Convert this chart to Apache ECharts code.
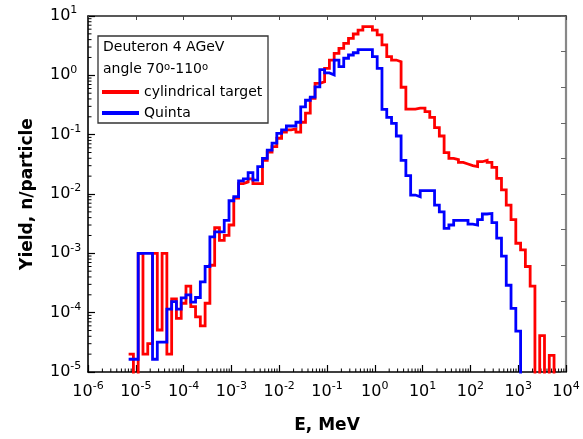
<!DOCTYPE html>
<html>
<head>
<meta charset="utf-8">
<script src="https://cdn.jsdelivr.net/npm/echarts@6/dist/echarts.min.js"></script>
<style>html,body{margin:0;padding:0;background:#fff}#c{width:583px;height:439px}</style>
</head>
<body>
<div id="c"></div>
<script>
// Bin centres, log10(E / MeV); bins are 0.1 decade wide
const binCenterLog10E = [
 -5.1,-5.0,-4.9,-4.8,-4.7,-4.6,-4.5,-4.4,-4.3,-4.2,-4.1,
 -4.0,-3.9,-3.8,-3.7,-3.6,-3.5,-3.4,-3.3,-3.2,-3.1,
 -3.0,-2.9,-2.8,-2.7,-2.6,-2.5,-2.4,-2.3,-2.2,-2.1,
 -2.0,-1.9,-1.8,-1.7,-1.6,-1.5,-1.4,-1.3,-1.2,-1.1,
 -1.0,-0.9,-0.8,-0.7,-0.6,-0.5,-0.4,-0.3,-0.2,-0.1,
 0.0,0.1,0.2,0.3,0.4,0.5,0.6,0.7,0.8,0.9,
 1.0,1.1,1.2,1.3,1.4,1.5,1.6,1.7,1.8,1.9,
 2.0,2.1,2.2,2.3,2.4,2.5,2.6,2.7,2.8,2.9,
 3.0,3.1,3.2,3.3,3.4,3.5,3.6,3.7
];
const binHalfWidthLog = 0.05;

// Yield, n/particle - cylindrical target (red)
const cylindricalTarget = [
 2.0e-5,0,1e-3,2.0e-5,3.0e-5,1e-3,5.1e-5,1e-3,2.0e-5,1.7e-4,8.0e-5,
 1.44e-4,2.8e-4,1.26e-4,8.5e-5,6.0e-5,1.44e-4,6.3e-4,2.7e-3,1.65e-3,2.0e-3,
 3.0e-3,8.5e-3,1.5e-2,1.6e-2,1.8e-2,1.5e-2,1.5e-2,3.7e-2,5.1e-2,6.3e-2,
 8.7e-2,0.11,0.12,0.125,0.11,0.162,0.23,0.41,0.73,0.78,
 1.31,1.81,2.35,2.85,3.46,4.2,4.97,5.8,6.6,6.6,
 5.8,4.8,3.25,2.06,1.81,1.7,0.63,0.27,0.27,0.28,
 0.28,0.245,0.196,0.131,0.095,0.05,0.04,0.038,0.034,0.032,
 0.03,0.029,0.035,0.037,0.034,0.028,0.0184,0.0117,0.0065,0.0037,
 0.00148,0.00114,6e-4,2.8e-4,0,4.1e-5,0,1.9e-5
];

// Yield, n/particle - Quinta (blue)
const quinta = [
 1.64e-5,1.64e-5,1e-3,1e-3,1e-3,1.64e-5,3.2e-5,3.2e-5,1.15e-4,1.53e-4,1.15e-4,
 1.78e-4,2.0e-4,1.5e-4,1.8e-4,3.3e-4,6e-4,1.9e-3,2.3e-3,2.3e-3,3.6e-3,
 7.7e-3,9e-3,1.66e-2,1.8e-2,2.3e-2,1.72e-2,2.9e-2,4e-2,5.5e-2,7.2e-2,
 0.105,0.12,0.14,0.14,0.162,0.295,0.38,0.43,0.64,1.25,
 1.1,1.02,1.81,1.4,1.94,2.2,2.4,2.72,2.72,2.72,
 2.06,1.31,0.267,0.196,0.155,0.095,0.037,0.0204,0.0096,0.009,
 0.0114,0.0114,0.0114,0.0065,0.005,0.00264,0.003,0.0036,0.0036,0.0036,
 0.0031,0.003,0.0037,0.0046,0.0047,0.0033,0.0018,9e-4,2.9e-4,1.18e-4,
 4.9e-5,0,0,0,0,0,0,0
];

const seriesNames = ['cylindrical target', 'Quinta'];
const titleLines = ['Deuteron 4 AGeV', 'angle 70{s|o}-110{s|o}'];
const xDecades = [-6,-5,-4,-3,-2,-1,0,1,2,3,4];
const yDecades = [-5,-4,-3,-2,-1,0,1];
const minorMultipliers = [2,3,4,5,6,7,8,9];

const X_MIN = 1e-6, X_MAX = 1e4, Y_MIN = 1e-5, Y_MAX = 10;
const FLOOR = 1e-8;
const FONT = 'DejaVu Sans';

function histPoints(values) {
  let last = values.length - 1;
  while (last > 0 && !(values[last] > 0)) last--;
  const pts = [];
  for (let i = 0; i <= last; i++) {
    pts.push([Math.pow(10, binCenterLog10E[i] - binHalfWidthLog), values[i] > 0 ? values[i] : FLOOR]);
  }
  pts.push([Math.pow(10, binCenterLog10E[last] + binHalfWidthLog), FLOOR]);
  return pts;
}

const xMinor = [], yMinor = [];
for (let i = 0; i < xDecades.length - 1; i++)
  minorMultipliers.forEach(m => xMinor.push([m * Math.pow(10, xDecades[i]), Y_MIN]));
for (let i = 0; i < yDecades.length - 1; i++)
  minorMultipliers.forEach(m => yMinor.push([X_MIN, m * Math.pow(10, yDecades[i])]));

function powLabel(v) {
  return '{b|10}{s|' + Math.round(Math.log10(v)) + '}';
}
const labelRich = {
  b: { fontFamily: FONT, fontSize: 16, lineHeight: 22, color: '#000' },
  s: { fontFamily: FONT, fontSize: 11, lineHeight: 12, verticalAlign: 'top', color: '#000' }
};

const chart = echarts.init(document.getElementById('c'), null, { renderer: 'canvas' });

chart.setOption({
  animation: false,
  backgroundColor: '#fff',
  grid: { left: 88, top: 16, right: 17, bottom: 67, containLabel: false },
  xAxis: [{
    type: 'log', logBase: 10, min: X_MIN, max: X_MAX, interval: 1,
    position: 'bottom',
    name: 'E, MeV', nameLocation: 'middle', nameGap: 45,
    nameTextStyle: { fontFamily: FONT, fontSize: 17, fontWeight: 'bold', color: '#000' },
    axisLine: { show: true, lineStyle: { color: '#000', width: 1.5 } },
    axisTick: { show: true, inside: true, length: 7, lineStyle: { color: '#000', width: 1.2 } },
    axisLabel: { formatter: powLabel, rich: labelRich, margin: 9 },
    splitLine: { show: false }, minorTick: { show: false }
  }, {
    type: 'log', logBase: 10, min: X_MIN, max: X_MAX, interval: 1,
    position: 'top',
    axisLine: { show: true, lineStyle: { color: '#222', width: 1.5 } },
    axisTick: { show: true, inside: true, length: 4, lineStyle: { color: '#444', width: 1 } },
    axisLabel: { show: false }, splitLine: { show: false }
  }],
  yAxis: [{
    type: 'log', logBase: 10, min: Y_MIN, max: Y_MAX, interval: 1,
    position: 'left',
    name: 'Yield, n/particle', nameLocation: 'middle', nameGap: 52,
    nameTextStyle: { fontFamily: FONT, fontSize: 17, fontWeight: 'bold', color: '#000' },
    axisLine: { show: true, lineStyle: { color: '#000', width: 1.6 } },
    axisTick: { show: true, inside: true, length: 7, lineStyle: { color: '#000', width: 1.2 } },
    axisLabel: { formatter: powLabel, rich: labelRich, margin: 38, align: 'left' },
    splitLine: { show: false }
  }, {
    type: 'value', min: 0, max: 10, interval: 1,
    position: 'right',
    axisLine: { show: true, lineStyle: { color: '#888', width: 2.2 } },
    axisTick: { show: true, inside: true, length: 5, lineStyle: { color: '#666', width: 1 } },
    axisLabel: { show: false }, splitLine: { show: false }
  }],
  legend: {
    orient: 'vertical', left: 102, top: 83.5, padding: 0,
    itemWidth: 37, itemHeight: 4, itemGap: 4, icon: 'rect',
    textStyle: { fontFamily: FONT, fontSize: 14, lineHeight: 17, color: '#000' },
    data: seriesNames, selectedMode: false
  },
  graphic: [
    { type: 'rect', z: 100, shape: { x: 98, y: 36, width: 170, height: 87 },
      style: { fill: 'none', stroke: '#333', lineWidth: 1.3 } },
    { type: 'text', z: 101, left: 103, top: 40,
      style: { text: titleLines[0], fontFamily: FONT, fontSize: 14, fill: '#000' } },
    { type: 'text', z: 101, left: 103, top: 62,
      style: { text: titleLines[1], fontFamily: FONT, fontSize: 14, fill: '#000',
        rich: { s: { fontFamily: FONT, fontSize: 10, verticalAlign: 'top', lineHeight: 10 } } } }
  ],
  series: [{
    name: seriesNames[0], type: 'line', step: 'end', symbol: 'none',
    xAxisIndex: 0, yAxisIndex: 0, clip: true,
    lineStyle: { color: '#ff0000', width: 2.8, join: 'miter', cap: 'butt' },
    itemStyle: { color: '#ff0000' },
    data: histPoints(cylindricalTarget), z: 3
  }, {
    name: seriesNames[1], type: 'line', step: 'end', symbol: 'none',
    xAxisIndex: 0, yAxisIndex: 0, clip: true,
    lineStyle: { color: '#0000ff', width: 2.8, join: 'miter', cap: 'butt' },
    itemStyle: { color: '#0000ff' },
    data: histPoints(quinta), z: 4
  }, {
    type: 'custom', xAxisIndex: 0, yAxisIndex: 0, silent: true, clip: false,
    data: xMinor,
    renderItem: function (params, api) {
      const p = api.coord([api.value(0), api.value(1)]);
      return { type: 'line', shape: { x1: p[0], y1: p[1], x2: p[0], y2: p[1] - 3.5 },
        style: { stroke: '#000', lineWidth: 1 } };
    }
  }, {
    type: 'custom', xAxisIndex: 0, yAxisIndex: 0, silent: true, clip: false,
    data: yMinor,
    renderItem: function (params, api) {
      const p = api.coord([api.value(0), api.value(1)]);
      return { type: 'line', shape: { x1: p[0], y1: p[1], x2: p[0] + 3.5, y2: p[1] },
        style: { stroke: '#000', lineWidth: 1 } };
    }
  }]
});
</script>
</body>
</html>
